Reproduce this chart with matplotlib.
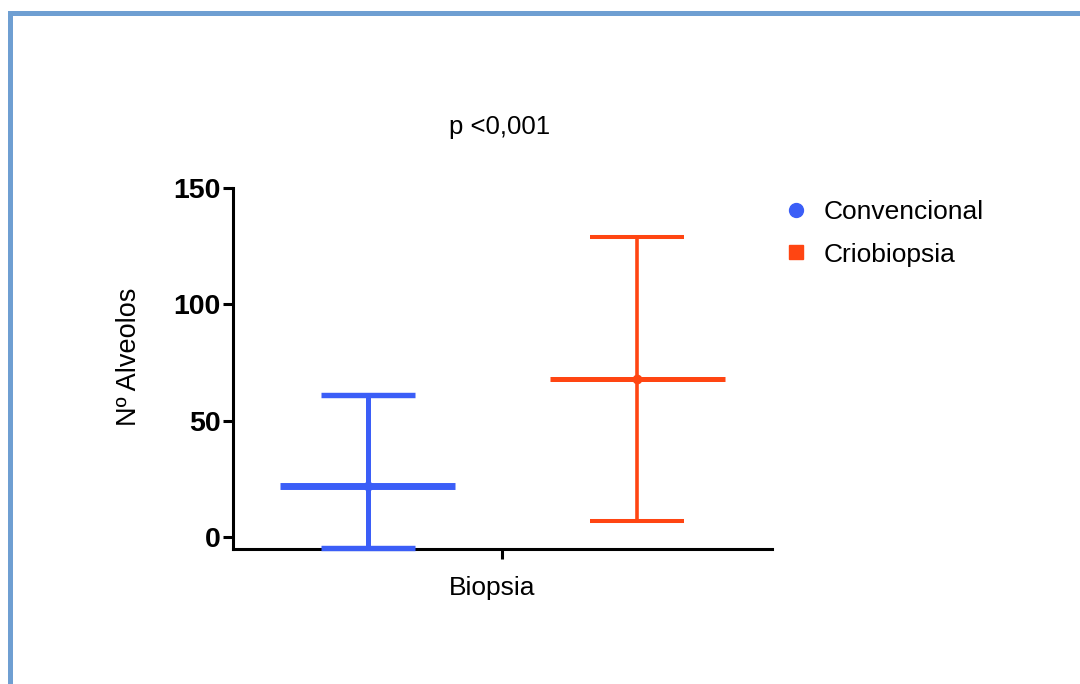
import matplotlib
matplotlib.use("Agg")
import matplotlib.pyplot as plt
from matplotlib.lines import Line2D
from matplotlib.patches import Rectangle

plt.rcParams['font.family'] = ['Liberation Sans', 'DejaVu Sans']

groups = ["Convencional", "Criobiopsia"]
means = [22, 68]
lower = [-4.7, 7]
upper = [61, 129]
colors = ["#3b5ef7", "#ff4512"]
markers = ["o", "s"]
xtick_label = "Biopsia"
ylabel = "Nº Alveolos"
title = "p <0,001"
yticks = [0, 50, 100, 150]

fig = plt.figure(figsize=(10.8, 6.84), dpi=100)
ax = fig.add_axes([0.2157, 0.1974, 0.4991, 0.5277])

xpos = [1, 3]
mean_lw = [5.0, 3.6]
vert_lw = [3.6, 2.6]
for i in range(2):
    yerr = [[means[i] - lower[i]], [upper[i] - means[i]]]
    ax.errorbar([xpos[i]], [means[i]], yerr=yerr, fmt='o', color=colors[i],
                ms=6, elinewidth=vert_lw[i], capsize=34, capthick=vert_lw[i] + 0.3,
                zorder=3, clip_on=False)
    ax.hlines(means[i], xpos[i] - 0.65, xpos[i] + 0.65, color=colors[i],
              lw=mean_lw[i], zorder=3)

ax.set_xlim(0, 4)
ax.set_ylim(-5, 150)
ax.set_yticks(yticks)
ax.set_yticklabels([str(t) for t in yticks], fontsize=20.5, fontweight='bold')
ax.set_xticks([2])
ax.set_xticklabels([""])
ax.annotate(xtick_label, xy=(2, 0), xycoords=('data', 'axes fraction'),
            xytext=(-7.2, -28), textcoords='offset points',
            ha='center', va='center', fontsize=19)
ax.spines['top'].set_visible(False)
ax.spines['right'].set_visible(False)
ax.spines['left'].set_linewidth(2.2)
ax.spines['bottom'].set_linewidth(2.2)
ax.spines['left'].set_bounds(-5, 150)
ax.tick_params(axis='y', length=7, width=2.2, pad=2)
ax.tick_params(axis='x', length=7, width=2.2, pad=14)
ax.set_ylabel(ylabel, fontsize=19.5)
ax.yaxis.set_label_coords(-0.168, 0.532)

fig.text(0.463, 0.814, title, fontsize=18.5, ha='center', va='center')

handles = [Line2D([], [], marker=markers[i], color=colors[i], ls='none', ms=10)
           for i in range(2)]
fig.legend(handles, groups, loc='upper left', bbox_to_anchor=(0.703, 0.742),
           frameon=False, fontsize=19, handlelength=1.0, handletextpad=0.55,
           labelspacing=0.7)

fig.add_artist(Rectangle((10 / 1080, -0.2), 1.3, 1.2 - 12.5 / 684,
                         transform=fig.transFigure, fill=False,
                         edgecolor="#6f9fd2", lw=3.6))

fig.savefig("out.png", dpi=100)
